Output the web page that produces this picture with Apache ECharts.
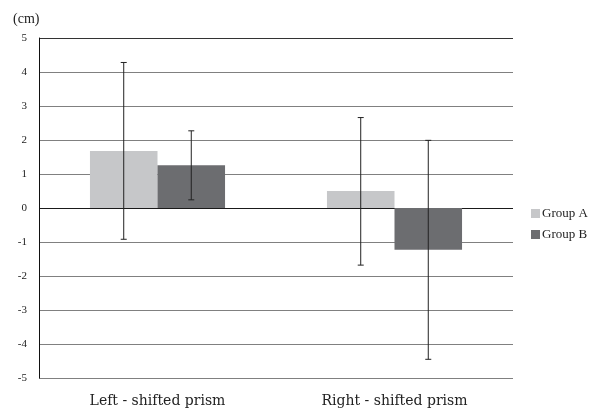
<!DOCTYPE html>
<html><head><meta charset="utf-8">
<script src="https://cdn.jsdelivr.net/npm/echarts@6/dist/echarts.min.js"></script>
<style>html,body{margin:0;padding:0;background:#fff}#c{width:595px;height:412px}</style>
</head><body><div id="c"></div>
<script>
const categories = ['Left - shifted prism', 'Right - shifted prism'];
const groupA = [1.68, 0.50];
const groupB = [1.26, -1.23];
const groupALow = [-0.92, -1.68];
const groupAHigh = [4.28, 2.66];
const groupBLow = [0.24, -4.45];
const groupBHigh = [2.27, 1.99];
const yTicks = [-5, -4, -3, -2, -1, 0, 1, 2, 3, 4, 5];

const FONT = '"Liberation Serif", "DejaVu Serif", serif';
const WIDE = '"DejaVu Serif", serif';
const BAR_FRAC = 0.285;

function errSeries(name, low, high, side) {
  return {
    type: 'custom', name: name + ' err', silent: true, z: 5,
    data: categories.map((c, i) => [i, low[i], high[i]]),
    renderItem: function (params, api) {
      const i = api.value(0);
      const bw = api.size([1, 0])[0] * BAR_FRAC;
      const lo = api.coord([i, api.value(1)]);
      const hi = api.coord([i, api.value(2)]);
      const x = lo[0] + side * bw / 2;
      const cap = 3;
      const st = { stroke: '#222', lineWidth: 1 };
      return { type: 'group', children: [
        { type: 'line', shape: { x1: x, y1: hi[1], x2: x, y2: lo[1] }, style: st },
        { type: 'line', shape: { x1: x - cap, y1: hi[1], x2: x + cap, y2: hi[1] }, style: st },
        { type: 'line', shape: { x1: x - cap, y1: lo[1], x2: x + cap, y2: lo[1] }, style: st }
      ]};
    }
  };
}

const lineColors = yTicks.map(v => v === 0 ? '#1a1a1a' : (v === 5 ? '#333' : '#808080'));

const chart = echarts.init(document.getElementById('c'));
chart.setOption({
  animation: false,
  backgroundColor: '#fff',
  textStyle: { fontFamily: FONT },
  title: { text: '(cm)', left: 8, top: 7, textStyle: { fontFamily: FONT, fontSize: 14, fontWeight: 'normal', color: '#222' } },
  legend: {
    orient: 'vertical', left: 526, top: 202, itemWidth: 9, itemHeight: 9, itemGap: 8,
    data: ['Group A', 'Group B'], icon: 'rect',
    textStyle: { fontFamily: FONT, fontSize: 13, color: '#222', padding: [0, 0, 0, -3] }
  },
  grid: { left: 39, right: 82, top: 38, bottom: 34 },
  xAxis: {
    type: 'category', data: categories,
    axisLine: { show: false, onZero: false }, axisTick: { show: false },
    axisLabel: { fontFamily: WIDE, fontSize: 14, color: '#222', margin: 16 }
  },
  yAxis: {
    type: 'value', min: -5, max: 5, interval: 1,
    axisLine: { show: true, lineStyle: { color: '#111', width: 1 } },
    axisTick: { show: false },
    axisLabel: { fontFamily: FONT, fontSize: 11, color: '#222', margin: 12 },
    splitLine: { show: true, lineStyle: { color: lineColors, width: 1 } }
  },
  series: [
    { name: 'Group A', type: 'bar', data: groupA, barWidth: (BAR_FRAC * 100) + '%', barGap: '0%', itemStyle: { color: '#c6c7c9' } },
    { name: 'Group B', type: 'bar', data: groupB, barWidth: (BAR_FRAC * 100) + '%', barGap: '0%', itemStyle: { color: '#6c6d70' } },
    errSeries('Group A', groupALow, groupAHigh, -1),
    errSeries('Group B', groupBLow, groupBHigh, 1)
  ]
});
</script></body></html>
